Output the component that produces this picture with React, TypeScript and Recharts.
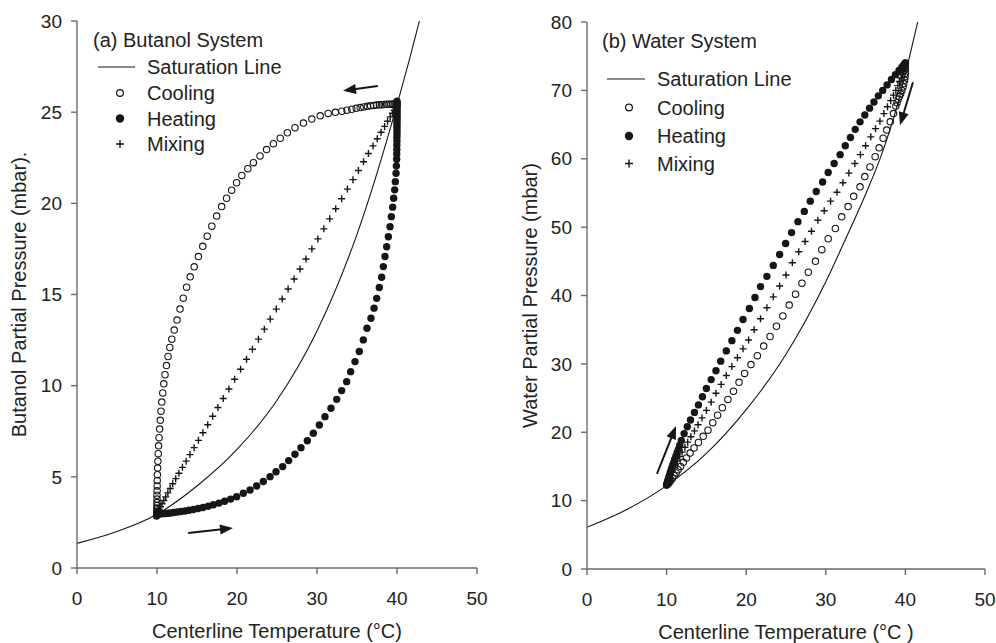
import { ComposedChart, Line, Scatter, XAxis, YAxis, ReferenceLine } from "recharts";

const FONT = '"Liberation Sans", Arial, sans-serif';
const INK = "#161616";
const AXIS = "#6a6a6a";
const TEXT = "#222";

const xTicks = [0, 10, 20, 30, 40, 50];
const butanolTicks = [0, 5, 10, 15, 20, 25, 30];
const waterTicks = [0, 10, 20, 30, 40, 50, 60, 70, 80];
const legendLabels = ["Saturation Line", "Cooling", "Heating", "Mixing"];

// (a) butanol system
const butanolSat = [
  [0, 1.35], [5, 2.0], [10, 2.95], [15, 4.5], [20, 6.5], [25, 9.2], [30, 13.0],
  [35, 18.3], [40, 25.4], [41.5, 27.8], [42.8, 30],
];
const butanolCooling = [
  [40, 25.45], [39.75, 25.45], [39.5, 25.45], [39.25, 25.44], [39.0, 25.44], [38.7, 25.43], [38.4, 25.42],
  [38.1, 25.41], [37.8, 25.4], [37.45, 25.39], [37.1, 25.37], [36.7, 25.35], [36.3, 25.32], [35.85, 25.29],
  [35.4, 25.25], [34.9, 25.21], [34.35, 25.16], [33.75, 25.11], [33.1, 25.05], [32.3, 24.99], [31.4, 24.93],
  [30.4, 24.8], [29.35, 24.62], [28.3, 24.4], [27.25, 24.15], [26.3, 23.87], [25.4, 23.57], [24.55, 23.27],
  [23.7, 22.95], [22.88, 22.6], [22.05, 22.23], [21.35, 21.9], [20.6, 21.53], [19.95, 21.13], [19.33, 20.72],
  [18.7, 20.28], [18.08, 19.82], [17.46, 19.3], [16.85, 18.75], [16.28, 18.2], [15.72, 17.64], [15.18, 17.08],
  [14.65, 16.52], [14.15, 15.97], [13.7, 15.4], [13.28, 14.8], [12.88, 14.2], [12.5, 13.6], [12.15, 13.05],
  [11.85, 12.55], [11.6, 12.1], [11.38, 11.6], [11.18, 11.1], [11.0, 10.6], [10.85, 10.1], [10.72, 9.6],
  [10.6, 9.1], [10.5, 8.6], [10.41, 8.1], [10.33, 7.62], [10.26, 7.15], [10.2, 6.7], [10.15, 6.27],
  [10.11, 5.86], [10.08, 5.48], [10.05, 5.12], [10.03, 4.8], [10.02, 4.5], [10.01, 4.23], [10.0, 3.99],
  [10, 3.78], [10, 3.59], [10, 3.43], [10, 3.29], [10, 3.18], [10, 3.09], [10, 3.02], [10, 2.97],
];
const butanolHeating = [
  [9.95, 2.85], [10, 2.95], [10.1, 2.95], [10.25, 2.96], [10.45, 2.97], [10.7, 2.98], [11.0, 2.99],
  [11.35, 3.0], [11.7, 3.02], [12.1, 3.04], [12.55, 3.07], [13.0, 3.1], [13.5, 3.13], [14.0, 3.17],
  [14.55, 3.21], [15.15, 3.26], [15.75, 3.32], [16.4, 3.39], [17.05, 3.47], [17.75, 3.56], [18.45, 3.66],
  [19.2, 3.78], [19.96, 3.91], [20.79, 4.1], [21.63, 4.28], [22.46, 4.5], [23.29, 4.74], [24.13, 5.01],
  [24.88, 5.28], [25.71, 5.56], [26.46, 5.89], [27.25, 6.24], [28.0, 6.6], [28.79, 6.98], [29.54, 7.39],
  [30.29, 7.84], [31.0, 8.3], [31.75, 8.76], [32.46, 9.25], [33.08, 9.73], [33.71, 10.22], [34.21, 10.77],
  [34.75, 11.32], [35.29, 11.87], [35.79, 12.51], [36.25, 13.15], [36.75, 13.7], [37.13, 14.25],
  [37.46, 14.79], [37.79, 15.38], [38.08, 15.95], [38.29, 16.53], [38.5, 17.08], [38.71, 17.62],
  [38.92, 18.17], [39.13, 18.72], [39.29, 19.27], [39.46, 19.79], [39.58, 20.28], [39.71, 20.74],
  [39.79, 21.19], [39.88, 21.65], [39.92, 22.05], [39.96, 22.42], [39.97, 22.7], [39.98, 22.95],
  [39.98, 23.2], [39.99, 23.42], [39.99, 23.62], [40, 23.8], [40, 23.97], [40, 24.13], [40, 24.28],
  [40, 24.42], [40, 24.55], [40, 24.67], [40, 24.79], [40, 24.9], [40, 25.01], [40, 25.12], [40, 25.22],
  [40, 25.32], [40, 25.42], [40, 25.52], [40, 25.6],
];
const butanolMixing = [
  [10, 3.0], [10.12, 3.1], [10.27, 3.22], [10.44, 3.36], [10.63, 3.52], [10.85, 3.7], [11.09, 3.9],
  [11.36, 4.12], [11.65, 4.36], [11.96, 4.62], [12.34, 4.9], [12.74, 5.2], [13.18, 5.52], [13.64, 5.86],
  [14.12, 6.22], [14.64, 6.6], [15.18, 7.0], [15.74, 7.42], [16.34, 7.86], [16.96, 8.32], [17.61, 8.8],
  [18.28, 9.3], [18.99, 9.82], [19.7, 10.35], [20.45, 10.9], [21.19, 11.45], [21.93, 12.0], [22.68, 12.55],
  [23.42, 13.1], [24.16, 13.65], [24.91, 14.2], [25.65, 14.75], [26.39, 15.3], [27.14, 15.85], [27.88, 16.4],
  [28.62, 16.95], [29.36, 17.5], [30.11, 18.05], [30.85, 18.6], [31.59, 19.15], [32.34, 19.7], [33.08, 20.25],
  [33.8, 20.78], [34.5, 21.3], [35.18, 21.8], [35.82, 22.28], [36.43, 22.73], [37.0, 23.15], [37.53, 23.54],
  [38.01, 23.9], [38.45, 24.22], [38.82, 24.5], [39.15, 24.74], [39.42, 24.94], [39.64, 25.1], [39.8, 25.22],
  [39.93, 25.32], [40.0, 25.4],
];
const butanolArrows = [
  [[37.6, 26.44], [33.25, 26.17]],
  [[13.9, 1.92], [19.5, 2.19]],
];

// (b) water system
const waterSat = [
  [0, 6.1], [5, 8.7], [10, 12.2], [15, 16.9], [20, 23.3], [25, 31.4], [30, 42.0], [32.5, 48.3],
  [35, 54.8], [37, 60.6], [39, 67.9], [40, 72.4], [41, 77.3], [41.55, 80],
];
const waterCooling = [
  [40.0, 74.0], [40.0, 73.5], [40.0, 73.0], [40.0, 72.5], [39.95, 72.0], [39.9, 71.5], [39.8, 71.0],
  [39.7, 70.5], [39.55, 70.0], [39.4, 69.5], [39.25, 69.1], [39.1, 68.7], [38.95, 68.2], [38.8, 67.7],
  [38.5, 66.6], [38.1, 65.4], [37.65, 64.2], [37.2, 63.0], [36.7, 61.6], [36.2, 60.3], [35.55, 58.8],
  [34.9, 57.4], [34.3, 55.9], [33.5, 54.5], [32.8, 53.0], [32.0, 51.5], [31.2, 49.8], [30.3, 48.3],
  [29.5, 46.7], [28.7, 45.0], [27.8, 43.4], [27.0, 41.8], [26.2, 40.2], [25.4, 38.6], [24.6, 37.0],
  [23.8, 35.5], [23.0, 34.0], [22.2, 32.6], [21.4, 31.2], [20.6, 29.9], [19.8, 28.6], [19.1, 27.3],
  [18.4, 26.0], [17.7, 24.8], [17.0, 23.6], [16.4, 22.5], [15.8, 21.4], [15.2, 20.3], [14.6, 19.4],
  [14.0, 18.5], [13.45, 17.7], [12.95, 16.95], [12.5, 16.25], [12.1, 15.6], [11.75, 15.0], [11.45, 14.5],
  [11.2, 14.05], [10.95, 13.65], [10.75, 13.3], [10.55, 13.0], [10.4, 12.75], [10.25, 12.55], [10.1, 12.4],
  [10, 12.3],
];
const waterHeating = [
  [10, 12.3], [10.06, 12.55], [10.13, 12.8], [10.2, 13.1], [10.28, 13.4], [10.36, 13.7], [10.45, 14.05],
  [10.55, 14.4], [10.66, 14.8], [10.78, 15.2], [10.9, 15.6], [11.03, 16.05], [11.17, 16.5], [11.32, 17.0],
  [11.48, 17.5], [11.65, 18.1], [11.85, 18.8], [12.2, 19.8], [12.6, 20.8], [13.0, 21.8], [13.5, 22.9],
  [14.0, 24.0], [14.5, 25.2], [15.0, 26.4], [15.6, 27.7], [16.2, 29.0], [16.8, 30.4], [17.5, 31.9],
  [18.2, 33.4], [18.9, 34.9], [19.6, 36.5], [20.4, 38.1], [21.1, 39.7], [21.8, 41.3], [22.6, 42.8],
  [23.4, 44.4], [24.2, 46.0], [24.95, 47.6], [25.7, 49.2], [26.5, 50.8], [27.3, 52.3], [28.05, 53.8],
  [28.8, 55.2], [29.6, 56.6], [30.3, 58.0], [31.05, 59.3], [31.8, 60.6], [32.45, 61.9], [33.1, 63.1],
  [33.7, 64.3], [34.3, 65.4], [34.9, 66.4], [35.5, 67.4], [36.05, 68.3], [36.6, 69.2], [37.15, 70.0],
  [37.7, 70.8], [38.25, 71.6], [38.75, 72.3], [39.2, 72.9], [39.55, 73.4], [39.8, 73.75], [40, 74.0],
];
const waterMixing = [
  [40, 74], [39.95, 73.6], [39.85, 73.2], [39.75, 72.8], [39.6, 72.3], [39.45, 71.8], [39.25, 71.3],
  [39.05, 70.7], [38.8, 70.0], [38.5, 69.3], [38.15, 68.5], [37.75, 67.6], [37.3, 66.6], [36.8, 65.5],
  [36.25, 64.4], [35.65, 63.2], [35.0, 61.9], [34.35, 60.6], [33.65, 59.3], [32.9, 57.9], [32.15, 56.5],
  [31.4, 55.1], [30.6, 53.8], [29.8, 52.4], [29.0, 51.0], [28.2, 49.4], [27.4, 47.9], [26.6, 46.4],
  [25.8, 44.8], [25.0, 43.0], [24.2, 41.4], [23.4, 39.8], [22.6, 38.2], [21.8, 36.6], [21.0, 35.0],
  [20.3, 33.5], [19.6, 32.2], [18.9, 30.9], [18.2, 29.6], [17.5, 28.3], [16.85, 27.0], [16.2, 25.7],
  [15.6, 24.4], [15.0, 23.2], [14.45, 22.1], [13.95, 21.1], [13.5, 20.2], [13.05, 19.35], [12.65, 18.55],
  [12.3, 17.8], [11.95, 17.1], [11.65, 16.45], [11.35, 15.8], [11.1, 15.2], [10.85, 14.65], [10.65, 14.15],
  [10.45, 13.7], [10.3, 13.3], [10.15, 12.95], [10.05, 12.6], [10, 12.3],
];
const waterArrows = [
  [[40.95, 71.2], [39.32, 64.9]],
  [[8.79, 13.9], [11.18, 20.9]],
];

const pts = (arr: number[][]) => arr.map(([x, y]) => ({ x, y }));

const OpenDot = (p: any) => (
  <circle cx={p.cx} cy={p.cy} r={3.2} fill="#fff" fillOpacity={0} stroke={INK} strokeWidth={1.1} />
);
const FilledDot = (p: any) => <circle cx={p.cx} cy={p.cy} r={3.7} fill={INK} />;
const PlusMark = (p: any) => (
  <path
    d={`M${p.cx - 3.5},${p.cy}H${p.cx + 3.5}M${p.cx},${p.cy - 3.5}V${p.cy + 3.5}`}
    stroke={INK}
    strokeWidth={1.4}
    fill="none"
  />
);

const Arrow = (p: any) => {
  const { x1, y1, x2, y2 } = p;
  const dx = x2 - x1;
  const dy = y2 - y1;
  const len = Math.hypot(dx, dy) || 1;
  const ux = dx / len;
  const uy = dy / len;
  const hl = 13;
  const hw = 5;
  const bx = x2 - ux * hl;
  const by = y2 - uy * hl;
  return (
    <g>
      <line x1={x1} y1={y1} x2={bx + ux * 2} y2={by + uy * 2} stroke={INK} strokeWidth={2} />
      <polygon
        points={`${x2},${y2} ${bx - uy * hw},${by + ux * hw} ${bx + uy * hw},${by - ux * hw}`}
        fill={INK}
      />
    </g>
  );
};

type PanelProps = {
  width: number;
  margin: { top: number; right: number; bottom: number; left: number };
  yMax: number;
  yTicks: number[];
  yLabel: string;
  yLabelOffset: number;
  xLabel: string;
  sat: number[][];
  cooling: number[][];
  heating: number[][];
  mixing: number[][];
  arrows: number[][][];
};

const tickStyle = { fontSize: 19, fill: TEXT, fontFamily: FONT };

const Panel = ({
  width, margin, yMax, yTicks, yLabel, yLabelOffset, xLabel, sat, cooling, heating, mixing, arrows,
}: PanelProps) => (
  <ComposedChart width={width} height={643} margin={margin}>
    <XAxis
      type="number"
      dataKey="x"
      domain={[0, 50]}
      ticks={xTicks}
      allowDataOverflow
      height={40}
      tickSize={6}
      tickMargin={18}
      tick={tickStyle}
      stroke={AXIS}
      strokeWidth={1.4}
      label={{ value: xLabel, position: "bottom", offset: 16, fontSize: 20, fill: TEXT, fontFamily: FONT }}
    />
    <YAxis
      type="number"
      dataKey="y"
      domain={[0, yMax]}
      ticks={yTicks}
      allowDataOverflow
      width={60}
      tickSize={6}
      tickMargin={9}
      tick={tickStyle}
      stroke={AXIS}
      strokeWidth={1.4}
      label={{
        value: yLabel,
        angle: -90,
        position: "insideLeft",
        offset: yLabelOffset,
        fontSize: 20,
        fill: TEXT,
        fontFamily: FONT,
        style: { textAnchor: "middle" },
      }}
    />
    <Line
      data={pts(sat)}
      dataKey="y"
      type="monotone"
      dot={false}
      stroke={INK}
      strokeWidth={1.1}
      isAnimationActive={false}
    />
    <Scatter data={pts(cooling)} shape={OpenDot} isAnimationActive={false} />
    <Scatter data={pts(mixing)} shape={PlusMark} isAnimationActive={false} />
    <Scatter data={pts(heating)} shape={FilledDot} isAnimationActive={false} />
    {arrows.map(([a, b], i) => (
      <ReferenceLine
        key={i}
        segment={[{ x: a[0], y: a[1] }, { x: b[0], y: b[1] }]}
        shape={Arrow}
        ifOverflow="visible"
      />
    ))}
  </ComposedChart>
);

const Legend = ({ title, x, ys, lineX, markX, textX }: any) => (
  <g fontFamily={FONT} fontSize={20} fill={TEXT}>
    <text x={x} y={ys[0]}>{title}</text>
    <line x1={lineX[0]} x2={lineX[1]} y1={ys[1] - 7} y2={ys[1] - 7} stroke={INK} strokeWidth={1.1} />
    <circle cx={markX} cy={ys[2] - 7} r={3.4} fill="none" stroke={INK} strokeWidth={1.2} />
    <circle cx={markX} cy={ys[3] - 7} r={4.2} fill={INK} />
    <path
      d={`M${markX - 4},${ys[4] - 7}H${markX + 4}M${markX},${ys[4] - 11}V${ys[4] - 3}`}
      stroke={INK}
      strokeWidth={1.4}
    />
    {legendLabels.map((l, i) => (
      <text key={l} x={textX} y={ys[i + 1]}>{l}</text>
    ))}
  </g>
);

export default function App() {
  return (
    <div style={{ position: "absolute", left: 0, top: 0, width: 996, height: 643, background: "#fff" }}>
      <div style={{ position: "absolute", left: 0, top: 0 }}>
        <Panel
          width={500}
          margin={{ top: 21, right: 23, bottom: 35, left: 17 }}
          yMax={30}
          yTicks={butanolTicks}
          yLabel="Butanol Partial Pressure (mbar)."
          yLabelOffset={2.4}
          xLabel="Centerline Temperature (°C)"
          sat={butanolSat}
          cooling={butanolCooling}
          heating={butanolHeating}
          mixing={butanolMixing}
          arrows={butanolArrows}
        />
      </div>
      <div style={{ position: "absolute", left: 500, top: 0 }}>
        <Panel
          width={496}
          margin={{ top: 22, right: 11, bottom: 34, left: 27 }}
          yMax={80}
          yTicks={waterTicks}
          yLabel="Water Partial Pressure (mbar)"
          yLabelOffset={3.4}
          xLabel="Centerline Temperature (°C )"
          sat={waterSat}
          cooling={waterCooling}
          heating={waterHeating}
          mixing={waterMixing}
          arrows={waterArrows}
        />
      </div>
      <svg
        width={996}
        height={643}
        style={{ position: "absolute", left: 0, top: 0, pointerEvents: "none" }}
      >
        <Legend title="(a) Butanol System" x={93} ys={[47, 74, 100, 125.5, 151]} lineX={[98, 135]} markX={120} textX={147} />
        <Legend title="(b) Water System" x={602} ys={[48, 86, 114.5, 143, 170.5]} lineX={[607, 645]} markX={629} textX={657} />
      </svg>
    </div>
  );
}
